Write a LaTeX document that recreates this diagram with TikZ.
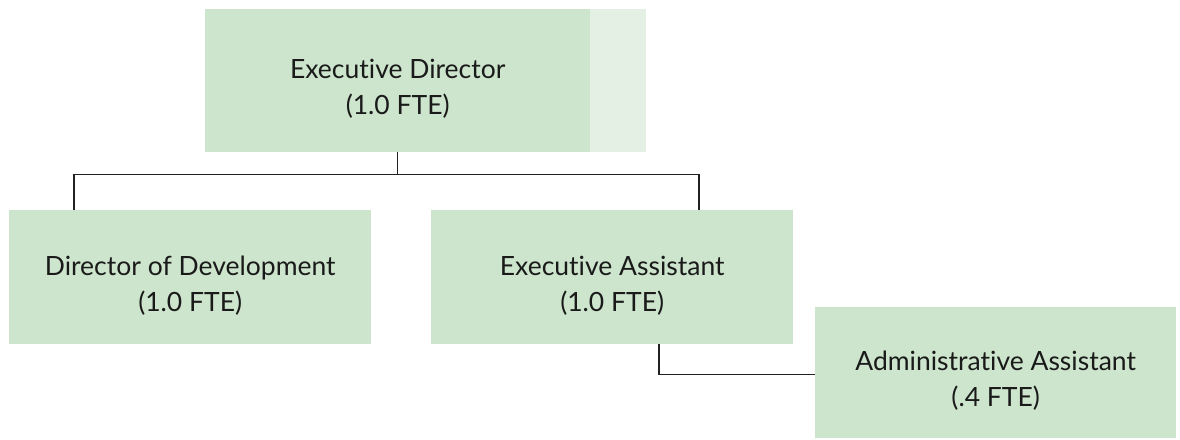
\documentclass[tikz,border=0pt]{standalone}
\usepackage{fontspec}
\setmainfont[Ligatures={NoCommon,NoDiscretionary}]{Lato}
\begin{document}
\begin{tikzpicture}[x=1pt,y=-1pt,
  box/.style={fill=boxgreen, draw=none, inner sep=0pt, align=center,
    font=\fontsize{26.5}{36}\selectfont, text=textdark},
  conn/.style={draw=linedark, line width=1.5pt}]
\definecolor{boxgreen}{HTML}{CCE5CC}
\definecolor{boxlight}{HTML}{E5F0E5}
\definecolor{textdark}{HTML}{1A1A1A}
\definecolor{linedark}{HTML}{222222}
\useasboundingbox (0,0) rectangle (1180,439);
% top box with lighter extension
\node[fill=boxlight, inner sep=0pt, minimum width=56pt, minimum height=143pt, anchor=north west] (topext) at (590,9) {};
\node[box, minimum width=385pt, minimum height=143pt, anchor=north west] (top) at (205,9) {\\[0pt]Executive Director\\(1.0 FTE)};
\node[box, minimum width=362pt, minimum height=134pt, anchor=north west] (dd) at (9,210) {\\[0pt]Director of Development\\(1.0 FTE)};
\node[box, minimum width=362pt, minimum height=134pt, anchor=north west] (ea) at (431,210) {\\[0pt]Executive Assistant\\(1.0 FTE)};
\node[box, minimum width=361pt, minimum height=131pt, anchor=north west] (aa) at (815,307) {\\[0pt]Administrative Assistant\\(.4 FTE)};
\coordinate (j) at ([yshift=-22pt]top.south);
\draw[conn] (top.south) -- (j);
\draw[conn] (j) -| ([xshift=65pt]dd.north west);
\draw[conn] (j) -| ([xshift=268pt]ea.north west);
\draw[conn] ([xshift=228pt]ea.south west) |- ([yshift=-2pt]aa.west);
\end{tikzpicture}
\end{document}
